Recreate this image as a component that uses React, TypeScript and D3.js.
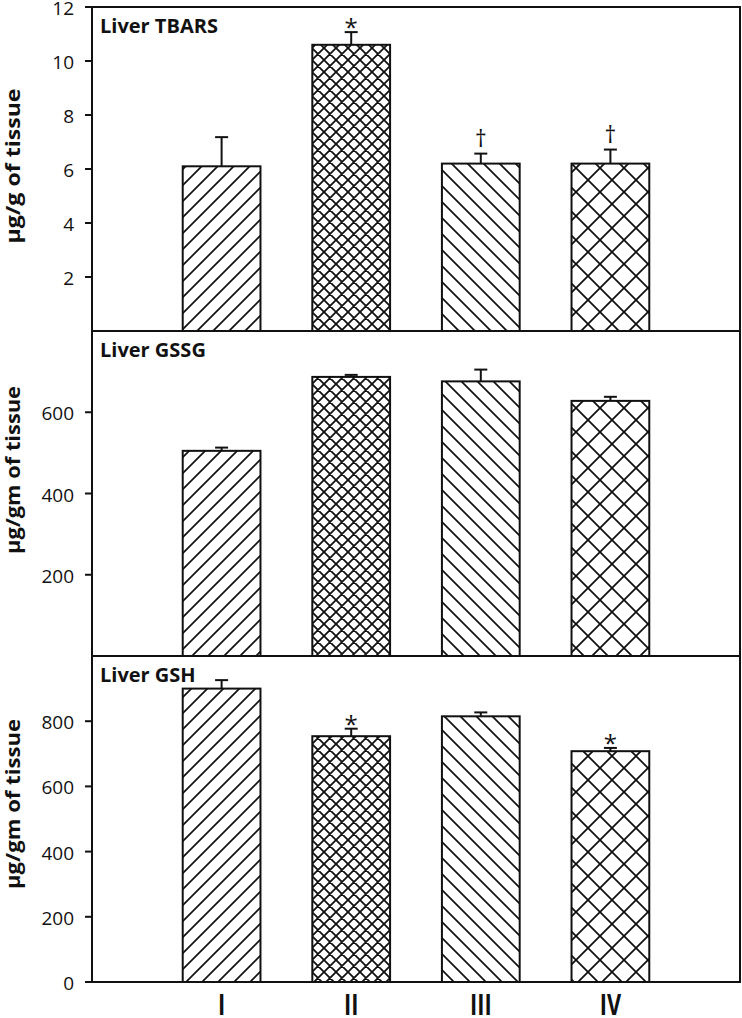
import React from "react";
import * as d3 from "d3";

// groups and fill patterns
const groups = ["I", "II", "III", "IV"];
const fills = ["diagUp", "crossFine", "diagDown", "crossWide"];

// Liver TBARS
const tbarsMean = [6.1, 10.6, 6.2, 6.2];
const tbarsErr = [1.08, 0.47, 0.37, 0.52];
const tbarsMarks = ["", "*", "†", "†"];
const tbarsTicks = [2, 4, 6, 8, 10, 12];
const tbarsMax = 12;

// Liver GSSG
const gssgMean = [505, 687, 676, 628];
const gssgErr = [8, 5, 29, 10];
const gssgMarks = ["", "", "", ""];
const gssgTicks = [200, 400, 600];
const gssgMax = 800;

// Liver GSH
const gshMean = [900, 754, 815, 708];
const gshErr = [26, 23, 12, 10];
const gshMarks = ["", "*", "", "*"];
const gshTicks = [0, 200, 400, 600, 800];
const gshMax = 1000;

const WIDTH = 742;
const HEIGHT = 1018;
const LEFT = 92;
const RIGHT = 740;
const FONT = "'Open Sans', 'DejaVu Sans', sans-serif";

const panels = [
  { title: "Liver TBARS", unit: "µg/g of tissue", unitLen: 155, mean: tbarsMean, err: tbarsErr, marks: tbarsMarks, ticks: tbarsTicks, max: tbarsMax, top: 7, bottom: 331, labelY: 166 },
  { title: "Liver GSSG", unit: "µg/gm of tissue", unitLen: 168, mean: gssgMean, err: gssgErr, marks: gssgMarks, ticks: gssgTicks, max: gssgMax, top: 331, bottom: 656, labelY: 470 },
  { title: "Liver GSH", unit: "µg/gm of tissue", unitLen: 170, mean: gshMean, err: gshErr, marks: gshMarks, ticks: gshTicks, max: gshMax, top: 656, bottom: 982, labelY: 804 },
];

const Patterns = () => (
  <defs>
    <pattern id="diagUp" patternUnits="userSpaceOnUse" width={16} height={16}>
      <path d="M-4,4 L4,-4 M0,16 L16,0 M12,20 L20,12" stroke="#111" strokeWidth={1.7} />
    </pattern>
    <pattern id="diagDown" patternUnits="userSpaceOnUse" width={16} height={16}>
      <path d="M-4,12 L4,20 M0,0 L16,16 M12,-4 L20,4" stroke="#111" strokeWidth={1.7} />
    </pattern>
    <pattern id="crossFine" patternUnits="userSpaceOnUse" width={12} height={12}>
      <path d="M-3,3 L3,-3 M0,12 L12,0 M9,15 L15,9 M-3,9 L3,15 M0,0 L12,12 M9,-3 L15,3" stroke="#111" strokeWidth={1.8} />
    </pattern>
    <pattern id="crossWide" patternUnits="userSpaceOnUse" width={24} height={24}>
      <path d="M-6,6 L6,-6 M0,24 L24,0 M18,30 L30,18 M-6,18 L6,30 M0,0 L24,24 M18,-6 L30,6" stroke="#111" strokeWidth={1.8} />
    </pattern>
  </defs>
);

const Panel = ({ p, x }: { p: typeof panels[number]; x: d3.ScalePoint<string> }) => {
  const y = d3.scaleLinear().domain([0, p.max]).range([p.bottom, p.top]);
  const bw = x.step() * 0.6;
  return (
    <g>
      {p.mean.map((v, i) => {
        const cx = x(groups[i])!;
        const capY = y(v + p.err[i]);
        return (
          <g key={i}>
            <rect x={cx - bw / 2} y={y(v)} width={bw} height={p.bottom - y(v)} fill="#fff" />
            <rect x={cx - bw / 2} y={y(v)} width={bw} height={p.bottom - y(v)} fill={`url(#${fills[i]})`} stroke="#111" strokeWidth={2} />
            <line x1={cx} x2={cx} y1={y(v)} y2={capY} stroke="#111" strokeWidth={2} />
            <line x1={cx - 6.5} x2={cx + 6.5} y1={capY} y2={capY} stroke="#111" strokeWidth={2} />
            {p.marks[i] === "*" && (
              <text x={cx} y={capY + 4} textAnchor="middle" fontSize={24} fontFamily={FONT} fill="#111">*</text>
            )}
            {p.marks[i] === "†" && (
              <text x={cx} y={capY - 7} textAnchor="middle" fontSize={23} fontFamily={FONT} fill="#111">†</text>
            )}
          </g>
        );
      })}
      {p.ticks.map((t) => (
        <g key={t}>
          <line x1={LEFT - 7} x2={LEFT} y1={y(t)} y2={y(t)} stroke="#111" strokeWidth={2} />
          <text x={LEFT - 18} y={y(t) + 1} textAnchor="end" dominantBaseline="central" fontSize={19} fontFamily={FONT} fill="#111">
            {t}
          </text>
        </g>
      ))}
      <line x1={LEFT} x2={RIGHT} y1={p.top} y2={p.top} stroke="#111" strokeWidth={2} />
      <text x={100} y={p.top + 26} fontSize={20} fontWeight="bold" fontFamily={FONT} fill="#111">
        {p.title}
      </text>
      <text
        transform={`translate(20, ${p.labelY}) rotate(-90)`}
        textAnchor="middle"
        fontSize={19}
        fontWeight="bold"
        fontFamily={FONT}
        fill="#111"
        textLength={p.unitLen}
        lengthAdjust="spacingAndGlyphs"
      >
        {p.unit}
      </text>
    </g>
  );
};

export default function App() {
  const x = d3.scalePoint<string>().domain(groups).range([LEFT, RIGHT]).padding(1);
  const last = panels[panels.length - 1];
  return (
    <svg width={WIDTH} height={HEIGHT} style={{ position: "absolute", left: 0, top: 0, background: "#fff" }}>
      <Patterns />
      {panels.map((p, i) => (
        <Panel key={i} p={p} x={x} />
      ))}
      <line x1={LEFT} x2={LEFT} y1={panels[0].top - 1} y2={last.bottom + 1} stroke="#111" strokeWidth={2} />
      <line x1={RIGHT} x2={RIGHT} y1={panels[0].top - 1} y2={last.bottom + 1} stroke="#111" strokeWidth={2} />
      <line x1={LEFT} x2={RIGHT} y1={last.bottom} y2={last.bottom} stroke="#111" strokeWidth={2} />
      {groups.map((g) => (
        <text
          key={g}
          transform={`translate(${x(g)}, 1015) scale(0.75, 1)`}
          textAnchor="middle"
          fontSize={29}
          fontWeight="bold"
          fontFamily={FONT}
          fill="#111"
        >
          {g}
        </text>
      ))}
    </svg>
  );
}
